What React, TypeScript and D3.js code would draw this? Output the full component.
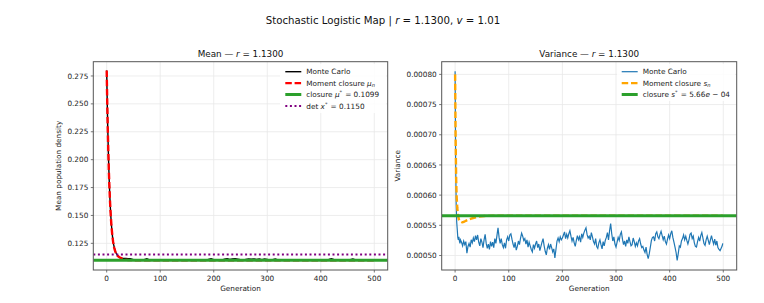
import React from "react";
import * as d3 from "d3";

// ---------- DATA ----------
const xTicks = [0, 100, 200, 300, 400, 500];
const meanYTicks = [0.125, 0.15, 0.175, 0.2, 0.225, 0.25, 0.275];
const varYTicks = [0.0005, 0.00055, 0.0006, 0.00065, 0.0007, 0.00075, 0.0008];
const meanYTickLabels = ["0.125", "0.150", "0.175", "0.200", "0.225", "0.250", "0.275"];
const varYTickLabels = ["0.00050", "0.00055", "0.00060", "0.00065", "0.00070", "0.00075", "0.00080"];

const closureMuStar = 0.1099;
const detXStar = 0.115;
const closureSStar = 5.66e-4;

// Monte Carlo mean [generation, value]
const meanMonteCarlo: [number, number][] = [
  [0, 0.28], [1, 0.2525], [2, 0.2288], [3, 0.2088], [4, 0.1918], [5, 0.1777], [6, 0.1657],
  [7, 0.1556], [8, 0.1475], [9, 0.1408], [10, 0.1352], [11, 0.1306], [12, 0.1269], [13, 0.1240],
  [14, 0.1216], [15, 0.1197], [16, 0.1182], [17, 0.1170], [18, 0.1159], [19, 0.1150], [20, 0.1143],
  [22, 0.1132], [25, 0.1121], [28, 0.1116], [32, 0.1114], [36, 0.1114], [40, 0.1113], [44, 0.1112],
  [47, 0.1108], [50, 0.1103], [55, 0.1101], [60, 0.1098], [65, 0.11], [70, 0.1104], [75, 0.1111],
  [80, 0.1102], [85, 0.1099], [90, 0.1097], [95, 0.11], [100, 0.1098], [105, 0.1101], [110, 0.1099],
  [115, 0.1097], [120, 0.11], [125, 0.1102], [130, 0.1099], [135, 0.1098], [140, 0.11], [145, 0.1097],
  [150, 0.1099], [155, 0.1101], [160, 0.1098], [165, 0.11], [170, 0.1097], [175, 0.1099], [180, 0.1101],
  [185, 0.1098], [190, 0.1106], [195, 0.1111], [200, 0.1103], [205, 0.1099], [210, 0.1104], [215, 0.11],
  [220, 0.1108], [225, 0.1112], [230, 0.1106], [235, 0.1111], [240, 0.1113], [245, 0.1109], [250, 0.1104],
  [255, 0.11], [260, 0.1105], [265, 0.111], [270, 0.1107], [275, 0.1111], [280, 0.1106], [285, 0.111],
  [290, 0.1104], [295, 0.1109], [300, 0.1105], [305, 0.11], [310, 0.1104], [315, 0.1109], [320, 0.1102],
  [325, 0.1099], [330, 0.1097], [335, 0.11], [340, 0.1098], [345, 0.1101], [350, 0.1099], [355, 0.1097],
  [360, 0.11], [365, 0.1098], [370, 0.1101], [375, 0.1099], [380, 0.1097], [385, 0.11], [390, 0.1098],
  [395, 0.1101], [400, 0.1099], [405, 0.1098], [410, 0.1101], [415, 0.1105], [420, 0.1112], [425, 0.1104],
  [430, 0.1099], [435, 0.1097], [440, 0.11], [445, 0.1098], [450, 0.1101], [455, 0.1103], [460, 0.1109],
  [465, 0.1101], [470, 0.1098], [475, 0.11], [480, 0.1097], [485, 0.1099], [490, 0.1101], [495, 0.1098],
  [499, 0.11],
];

// Moment closure mean mu_n
const meanClosure: [number, number][] = [
  [0, 0.28], [1, 0.252], [2, 0.228], [3, 0.208], [4, 0.191], [5, 0.177], [6, 0.165], [7, 0.155],
  [8, 0.147], [9, 0.1403], [10, 0.1348], [11, 0.1302], [12, 0.1265], [13, 0.1236], [14, 0.1212],
  [15, 0.1193], [16, 0.1178], [17, 0.1165], [18, 0.1155], [19, 0.1146], [20, 0.1139], [22, 0.1131],
  [24, 0.1125], [26, 0.1119], [28, 0.1115], [30, 0.1112], [33, 0.1108], [36, 0.1104], [40, 0.1101],
  [50, 0.1099], [499, 0.1099],
];

// Monte Carlo variance
const varMonteCarlo: [number, number][] = [
  [0, 8.05e-4], [1, 6.6e-4], [2, 5.85e-4], [3, 5.55e-4], [4, 5.43e-4], [5, 5.30e-4], [6, 5.26e-4],
  [7, 5.31e-4], [8, 5.24e-4], [9, 5.20e-4], [10, 5.26e-4], [12, 5.22e-4], [14, 5.16e-4], [16, 5.24e-4],
  [18, 5.18e-4], [20, 5.23e-4], [22, 5.04e-4], [24, 5.15e-4], [26, 5.20e-4], [28, 5.14e-4], [30, 5.26e-4],
  [32, 5.21e-4], [34, 5.29e-4], [36, 5.23e-4], [38, 5.33e-4], [40, 5.26e-4], [42, 5.34e-4], [44, 5.22e-4],
  [46, 5.16e-4], [48, 5.28e-4], [50, 5.22e-4], [52, 5.13e-4], [54, 5.26e-4], [56, 5.35e-4], [58, 5.20e-4],
  [60, 5.12e-4], [62, 5.19e-4], [64, 5.10e-4], [66, 5.23e-4], [68, 5.15e-4], [70, 5.22e-4], [72, 5.13e-4],
  [74, 5.28e-4], [76, 5.20e-4], [78, 5.33e-4], [80, 5.46e-4], [82, 5.30e-4], [84, 5.20e-4], [86, 5.28e-4],
  [88, 5.18e-4], [90, 5.13e-4], [92, 5.21e-4], [94, 5.12e-4], [96, 5.26e-4], [98, 5.31e-4], [100, 5.24e-4],
  [102, 5.34e-4], [104, 5.36e-4], [106, 5.27e-4], [108, 5.19e-4], [110, 5.13e-4], [112, 5.22e-4],
  [114, 5.09e-4], [116, 5.15e-4], [118, 5.24e-4], [120, 5.18e-4], [122, 5.29e-4], [124, 5.37e-4],
  [126, 5.32e-4], [128, 5.25e-4], [130, 5.28e-4], [132, 5.19e-4], [134, 5.26e-4], [136, 5.14e-4],
  [138, 5.22e-4], [140, 5.16e-4], [142, 5.10e-4], [144, 5.06e-4], [146, 5.18e-4], [148, 5.12e-4],
  [150, 5.19e-4], [152, 5.24e-4], [154, 5.13e-4], [156, 5.19e-4], [158, 5.08e-4], [160, 5.15e-4],
  [162, 5.22e-4], [164, 5.28e-4], [166, 5.16e-4], [168, 5.07e-4], [170, 5.01e-4], [172, 5.12e-4],
  [174, 5.18e-4], [176, 5.10e-4], [178, 5.19e-4], [180, 5.13e-4], [182, 5.06e-4], [184, 5.11e-4],
  [186, 4.96e-4], [188, 5.10e-4], [190, 5.24e-4], [192, 5.29e-4], [194, 5.23e-4], [196, 5.31e-4],
  [198, 5.26e-4], [200, 5.29e-4], [202, 5.34e-4], [204, 5.39e-4], [206, 5.28e-4], [208, 5.35e-4],
  [210, 5.29e-4], [212, 5.36e-4], [214, 5.41e-4], [216, 5.32e-4], [218, 5.24e-4], [220, 5.30e-4],
  [222, 5.21e-4], [224, 5.15e-4], [226, 5.25e-4], [228, 5.33e-4], [230, 5.26e-4], [232, 5.31e-4],
  [234, 5.22e-4], [236, 5.36e-4], [238, 5.30e-4], [240, 5.37e-4], [242, 5.42e-4], [244, 5.46e-4],
  [246, 5.35e-4], [248, 5.29e-4], [250, 5.32e-4], [252, 5.26e-4], [254, 5.38e-4], [256, 5.31e-4],
  [258, 5.23e-4], [260, 5.19e-4], [262, 5.28e-4], [264, 5.15e-4], [266, 5.12e-4], [268, 5.21e-4],
  [270, 5.26e-4], [272, 5.18e-4], [274, 5.11e-4], [276, 5.23e-4], [278, 5.16e-4], [280, 5.25e-4],
  [282, 5.30e-4], [284, 5.38e-4], [286, 5.26e-4], [288, 5.41e-4], [290, 5.53e-4], [292, 5.36e-4],
  [294, 5.24e-4], [296, 5.31e-4], [298, 5.19e-4], [300, 5.14e-4], [302, 5.22e-4], [304, 5.30e-4],
  [306, 5.25e-4], [308, 5.35e-4], [310, 5.39e-4], [312, 5.27e-4], [314, 5.18e-4], [316, 5.24e-4],
  [318, 5.15e-4], [320, 5.26e-4], [322, 5.20e-4], [324, 5.31e-4], [326, 5.23e-4], [328, 5.16e-4],
  [330, 5.18e-4], [332, 5.29e-4], [334, 5.23e-4], [336, 5.15e-4], [338, 5.21e-4], [340, 5.16e-4],
  [342, 5.24e-4], [344, 5.28e-4], [346, 5.19e-4], [348, 5.13e-4], [350, 5.15e-4], [352, 5.09e-4],
  [354, 5.05e-4], [356, 5.14e-4], [358, 5.02e-4], [360, 4.95e-4], [362, 5.03e-4], [364, 5.14e-4],
  [366, 5.25e-4], [368, 5.30e-4], [370, 5.31e-4], [372, 5.24e-4], [374, 5.36e-4], [376, 5.39e-4],
  [378, 5.31e-4], [380, 5.28e-4], [382, 5.35e-4], [384, 5.40e-4], [386, 5.33e-4], [388, 5.26e-4],
  [390, 5.32e-4], [392, 5.23e-4], [394, 5.19e-4], [396, 5.27e-4], [398, 5.34e-4], [400, 5.28e-4],
  [402, 5.36e-4], [404, 5.41e-4], [406, 5.30e-4], [408, 5.22e-4], [410, 5.14e-4], [412, 5.05e-4],
  [414, 4.92e-4], [416, 5.03e-4], [418, 5.16e-4], [420, 5.14e-4], [422, 5.24e-4], [424, 5.28e-4],
  [426, 5.34e-4], [428, 5.26e-4], [430, 5.32e-4], [432, 5.25e-4], [434, 5.19e-4], [436, 5.26e-4],
  [438, 5.35e-4], [440, 5.37e-4], [442, 5.28e-4], [444, 5.32e-4], [446, 5.21e-4], [448, 5.15e-4],
  [450, 5.14e-4], [452, 5.23e-4], [454, 5.30e-4], [456, 5.24e-4], [458, 5.33e-4], [460, 5.38e-4],
  [462, 5.29e-4], [464, 5.20e-4], [466, 5.17e-4], [468, 5.26e-4], [470, 5.32e-4], [472, 5.25e-4],
  [474, 5.18e-4], [476, 5.26e-4], [478, 5.33e-4], [480, 5.25e-4], [482, 5.19e-4], [484, 5.27e-4],
  [486, 5.17e-4], [488, 5.24e-4], [490, 5.13e-4], [492, 5.10e-4], [494, 5.08e-4], [496, 5.12e-4],
  [498, 5.16e-4], [499, 5.20e-4],
];

// Moment closure variance s_n
const varClosure: [number, number][] = [
  [0, 8.0e-4], [1, 6.9e-4], [2, 6.25e-4], [3, 5.95e-4], [4, 5.8e-4], [5, 5.7e-4], [6, 5.64e-4],
  [7, 5.6e-4], [8, 5.58e-4], [10, 5.562e-4], [12, 5.553e-4], [14, 5.55e-4], [17, 5.56e-4],
  [20, 5.575e-4], [25, 5.595e-4], [30, 5.61e-4], [35, 5.625e-4], [40, 5.635e-4], [45, 5.645e-4],
  [55, 5.655e-4], [70, 5.66e-4], [499, 5.66e-4],
];

// ---------- STYLE ----------
const FONT = "DejaVu Sans, Verdana, sans-serif";
const TICK_FS = 7.3;
const SPINE = "#555555";
const GRID = "#e8e8e8";

type Box = { x0: number; x1: number; y0: number; y1: number };

const I = (s: string) => <tspan fontStyle="italic">{s}</tspan>;
const Sup = (s: string, fs: number) => (
  <>
    <tspan dy={-fs * 0.4} fontSize={fs * 0.7}>{s}</tspan>
    <tspan dy={fs * 0.4}>{"\u200A"}</tspan>
  </>
);
const Sub = (s: string, fs: number) => (
  <>
    <tspan dy={fs * 0.22} fontSize={fs * 0.7} fontStyle="italic">{s}</tspan>
    <tspan dy={-fs * 0.22}>{"\u200A"}</tspan>
  </>
);

type LegendItem = { label: React.ReactNode; stroke: string; width: number; dash?: string };

function Legend({ x, y, items, box }: { x: number; y: number; items: LegendItem[]; box: [number, number, number, number] }) {
  return (
    <g>
      <rect x={box[0]} y={box[1]} width={box[2]} height={box[3]} fill="white" fillOpacity={0.85} />
      {items.map((it, i) => {
        const yy = y + i * 11.4;
        return (
          <g key={i}>
            <line x1={x} x2={x + 16} y1={yy} y2={yy} stroke={it.stroke} strokeWidth={it.width} strokeDasharray={it.dash} />
            <text x={x + 21} y={yy + 2.6} fontSize={TICK_FS} fill="#222">{it.label}</text>
          </g>
        );
      })}
    </g>
  );
}

function Axes({
  box, xScale, yScale, yTicks, yLabels, children, ylabel, ylabelX, title,
}: {
  box: Box; xScale: d3.ScaleLinear<number, number>; yScale: d3.ScaleLinear<number, number>;
  yTicks: number[]; yLabels: string[]; children: React.ReactNode; ylabel: string; ylabelX: number; title: React.ReactNode;
}) {
  const cx = (box.x0 + box.x1) / 2;
  const clipId = "clip" + Math.round(box.x0);
  return (
    <g>
      <defs>
        <clipPath id={clipId}>
          <rect x={box.x0} y={box.y0} width={box.x1 - box.x0} height={box.y1 - box.y0} />
        </clipPath>
      </defs>
      <rect x={box.x0} y={box.y0} width={box.x1 - box.x0} height={box.y1 - box.y0} fill="white" />
      {xTicks.map((t) => (
        <line key={"gx" + t} x1={xScale(t)} x2={xScale(t)} y1={box.y0} y2={box.y1} stroke={GRID} strokeWidth={0.8} />
      ))}
      {yTicks.map((t) => (
        <line key={"gy" + t} x1={box.x0} x2={box.x1} y1={yScale(t)} y2={yScale(t)} stroke={GRID} strokeWidth={0.8} />
      ))}
      <g clipPath={`url(#${clipId})`}>{children}</g>
      <rect x={box.x0} y={box.y0} width={box.x1 - box.x0} height={box.y1 - box.y0} fill="none" stroke={SPINE} strokeWidth={1} />
      {xTicks.map((t) => (
        <g key={"tx" + t}>
          <line x1={xScale(t)} x2={xScale(t)} y1={box.y1} y2={box.y1 + 2.5} stroke={SPINE} strokeWidth={0.8} />
          <text x={xScale(t)} y={box.y1 + 11} fontSize={TICK_FS} textAnchor="middle" fill="#222">{t}</text>
        </g>
      ))}
      {yTicks.map((t, i) => (
        <g key={"ty" + t}>
          <line x1={box.x0 - 2.5} x2={box.x0} y1={yScale(t)} y2={yScale(t)} stroke={SPINE} strokeWidth={0.8} />
          <text x={box.x0 - 5} y={yScale(t) + 2.6} fontSize={TICK_FS} textAnchor="end" fill="#222">{yLabels[i]}</text>
        </g>
      ))}
      <text x={cx} y={box.y1 + 20.5} fontSize={TICK_FS} textAnchor="middle" fill="#222">Generation</text>
      <text transform={`translate(${ylabelX},${(box.y0 + box.y1) / 2}) rotate(-90)`} fontSize={TICK_FS} textAnchor="middle" fill="#222">{ylabel}</text>
      <text x={cx} y={box.y0 - 4.5} fontSize={8.8} textAnchor="middle" fill="#111">{title}</text>
    </g>
  );
}

export default function App() {
  const W = 764, H = 303;
  const leftBox: Box = { x0: 93.3, x1: 387.7, y0: 61.7, y1: 270 };
  const rightBox: Box = { x0: 441.7, x1: 736.7, y0: 61.7, y1: 270 };

  const xL = d3.scaleLinear().domain([-25, 525]).range([leftBox.x0, leftBox.x1]);
  const yL = d3.scaleLinear().domain([0.1011, 0.2878]).range([leftBox.y1, leftBox.y0]);
  const xR = d3.scaleLinear().domain([-25, 525]).range([rightBox.x0, rightBox.x1]);
  const yR = d3.scaleLinear().domain([0.000476, 0.000821]).range([rightBox.y1, rightBox.y0]);

  const lineL = d3.line<[number, number]>().x((d) => xL(d[0])).y((d) => yL(d[1]));
  const lineR = d3.line<[number, number]>().x((d) => xR(d[0])).y((d) => yR(d[1]));

  return (
    <svg width={W} height={H} style={{ position: "absolute", left: 0, top: 0, fontFamily: FONT }}>
      <rect width={W} height={H} fill="white" />
      <text x={383} y={24} fontSize={10.2} textAnchor="middle" fill="#111">
        Stochastic Logistic Map | {I("r")} = 1.1300, {I("v")} = 1.01
      </text>

      <Axes box={leftBox} xScale={xL} yScale={yL} yTicks={meanYTicks} yLabels={meanYTickLabels}
        ylabel="Mean population density" ylabelX={61}
        title={<>Mean — {I("r")} = 1.1300</>}>
        <path d={lineL(meanMonteCarlo) || ""} fill="none" stroke="black" strokeWidth={1.4} />
        <path d={lineL(meanClosure) || ""} fill="none" stroke="#ff0000" strokeWidth={2.4} strokeDasharray="6.5,2.8" />
        <line x1={leftBox.x0} x2={leftBox.x1} y1={yL(closureMuStar)} y2={yL(closureMuStar)} stroke="#2ca02c" strokeWidth={3} />
        <line x1={leftBox.x0} x2={leftBox.x1} y1={yL(detXStar)} y2={yL(detXStar)} stroke="#800080" strokeWidth={2} strokeDasharray="2,2.6" />
      </Axes>
      <Legend x={285.3} y={71.7} box={[280, 64, 106, 49]} items={[
        { label: "Monte Carlo", stroke: "black", width: 1.4 },
        { label: <>Moment closure {I("μ")}{Sub("n", TICK_FS)}</>, stroke: "#ff0000", width: 2.4, dash: "6.5,2.8" },
        { label: <>closure {I("μ")}{Sup("*", TICK_FS)} = 0.1099</>, stroke: "#2ca02c", width: 3 },
        { label: <>det {I("x")}{Sup("*", TICK_FS)} = 0.1150</>, stroke: "#800080", width: 2, dash: "2,2.6" },
      ]} />

      <Axes box={rightBox} xScale={xR} yScale={yR} yTicks={varYTicks} yLabels={varYTickLabels}
        ylabel="Variance" ylabelX={400}
        title={<>Variance — {I("r")} = 1.1300</>}>
        <path d={lineR(varMonteCarlo) || ""} fill="none" stroke="#1f77b4" strokeWidth={1.2} />
        <path d={lineR(varClosure) || ""} fill="none" stroke="#ffa500" strokeWidth={2.4} strokeDasharray="6.5,2.8" />
        <line x1={rightBox.x0} x2={rightBox.x1} y1={yR(closureSStar)} y2={yR(closureSStar)} stroke="#2ca02c" strokeWidth={3} />
      </Axes>
      <Legend x={621.7} y={71.7} box={[617, 64, 118, 37]} items={[
        { label: "Monte Carlo", stroke: "#1f77b4", width: 1.2 },
        { label: <>Moment closure {I("s")}{Sub("n", TICK_FS)}</>, stroke: "#ffa500", width: 2.4, dash: "6.5,2.8" },
        { label: <>closure {I("s")}{Sup("*", TICK_FS)} = 5.66{I("e")} − 04</>, stroke: "#2ca02c", width: 3 },
      ]} />
    </svg>
  );
}
